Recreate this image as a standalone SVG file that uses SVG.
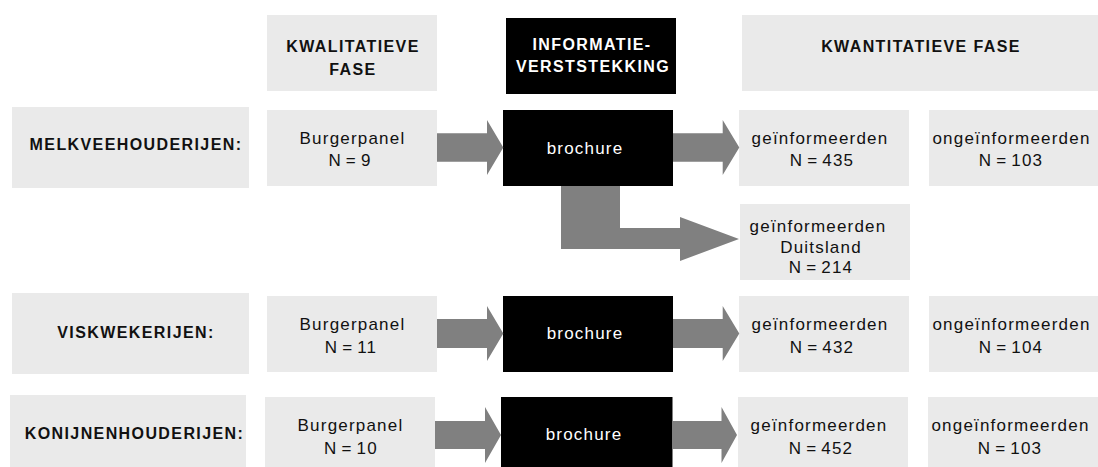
<svg xmlns="http://www.w3.org/2000/svg" width="1098" height="467" viewBox="0 0 1098 467">
<style>
.box{fill:#eaeaea}
.dark{fill:#000}
.arrow{fill:#808080}
text{font-family:"Liberation Sans",Arial,Helvetica,sans-serif;text-anchor:middle}
.hd{font-size:16px;font-weight:bold;letter-spacing:1.4px;fill:#111}
.hdw{font-size:16px;font-weight:bold;letter-spacing:1.4px;fill:#fff}
.t{font-size:17px;letter-spacing:1.2px;fill:#111;word-spacing:-2px}
.tw{font-size:17px;letter-spacing:1.2px;fill:#fff}
</style>
<rect width="1098" height="467" fill="#fff"/>

<g id="hdr-kwalitatief">
<rect class="box" x="267" y="15" width="170" height="76"/>
<text class="hd" x="353" y="52">KWALITATIEVE</text>
<text class="hd" x="353" y="75">FASE</text>
</g>
<g id="hdr-informatie">
<rect class="dark" x="506" y="18" width="170" height="76"/>
<text class="hdw" x="592" y="50">INFORMATIE-</text>
<text class="hdw" x="593" y="72">VERSTSTEKKING</text>
</g>
<g id="hdr-kwantitatief">
<rect class="box" x="742" y="15" width="356" height="76"/>
<text class="hd" x="921" y="52">KWANTITATIEVE FASE</text>
</g>

<g id="lbl-melkvee">
<rect class="box" x="12" y="107" width="237" height="81"/>
<text class="hd" x="136" y="150">MELKVEEHOUDERIJEN:</text>
</g>
<g id="lbl-vis">
<rect class="box" x="12" y="293" width="237" height="81"/>
<text class="hd" x="136" y="338">VISKWEKERIJEN:</text>
</g>
<g id="lbl-konijn">
<rect class="box" x="10" y="395" width="236" height="81"/>
<text class="hd" x="134.5" y="439">KONIJNENHOUDERIJEN:</text>
</g>

<g id="bp1">
<rect class="box" x="267" y="110" width="170" height="76"/>
<text class="t" x="352.5" y="143.5">Burgerpanel</text>
<text class="t" x="350" y="166">N = 9</text>
</g>
<g id="bp2">
<rect class="box" x="267" y="296" width="170" height="76"/>
<text class="t" x="352.5" y="330">Burgerpanel</text>
<text class="t" x="351" y="352.5">N = 11</text>
</g>
<g id="bp3">
<rect class="box" x="265" y="397" width="170" height="76"/>
<text class="t" x="350.5" y="431">Burgerpanel</text>
<text class="t" x="351" y="453.5">N = 10</text>
</g>

<g id="br1">
<rect class="dark" x="503" y="110" width="170" height="76"/>
<text class="tw" x="585" y="153.5">brochure</text>
</g>
<g id="br2">
<rect class="dark" x="503" y="296" width="170" height="76"/>
<text class="tw" x="585" y="339">brochure</text>
</g>
<g id="br3">
<rect class="dark" x="501" y="397" width="171.5" height="76"/>
<text class="tw" x="584" y="440">brochure</text>
</g>

<g id="gi1">
<rect class="box" x="739" y="110" width="170" height="76"/>
<text class="t" x="820" y="143.5">geïnformeerden</text>
<text class="t" x="822" y="166">N = 435</text>
</g>
<g id="ongi1">
<rect class="box" x="929" y="110" width="169" height="76"/>
<text class="t" x="1011.5" y="143.5">ongeïnformeerden</text>
<text class="t" x="1011" y="166">N = 103</text>
</g>
<g id="gi-duitsland">
<rect class="box" x="740" y="204" width="170" height="76"/>
<text class="t" x="818" y="232">geïnformeerden</text>
<text class="t" x="821" y="252.5">Duitsland</text>
<text class="t" x="821" y="273">N = 214</text>
</g>
<g id="gi2">
<rect class="box" x="739" y="296" width="170" height="76"/>
<text class="t" x="820" y="330">geïnformeerden</text>
<text class="t" x="822" y="352.5">N = 432</text>
</g>
<g id="ongi2">
<rect class="box" x="929" y="296" width="169" height="76"/>
<text class="t" x="1011.5" y="330">ongeïnformeerden</text>
<text class="t" x="1011" y="352.5">N = 104</text>
</g>
<g id="gi3">
<rect class="box" x="738" y="397" width="170" height="76"/>
<text class="t" x="819" y="431">geïnformeerden</text>
<text class="t" x="821" y="453.5">N = 452</text>
</g>
<g id="ongi3">
<rect class="box" x="928" y="397" width="170" height="76"/>
<text class="t" x="1010.5" y="431">ongeïnformeerden</text>
<text class="t" x="1010" y="453.5">N = 103</text>
</g>

<g id="connectors">
<polygon class="arrow" points="437,133.3 487,133.3 487,120 503.3,147.5 487,175 487,161.7 437,161.7"/>
<polygon class="arrow" points="673,133.3 722.7,133.3 722.7,120 739.3,147.5 722.7,175 722.7,161.7 673,161.7"/>
<polygon class="arrow" points="561,186 620,186 620,228 680,228 680,217 739,239 680,261 680,249 561,249"/>
<polygon class="arrow" points="437,319 487,319 487,306 503.3,333.5 487,361 487,348 437,348"/>
<polygon class="arrow" points="673,319 722.7,319 722.7,306 739.3,333.5 722.7,361 722.7,348 673,348"/>
<polygon class="arrow" points="435,421 485,421 485,407 501,435 485,463 485,449 435,449"/>
<polygon class="arrow" points="672.5,421 721.5,421 721.5,407 737,435 721.5,463 721.5,449 672.5,449"/>
</g>
</svg>
